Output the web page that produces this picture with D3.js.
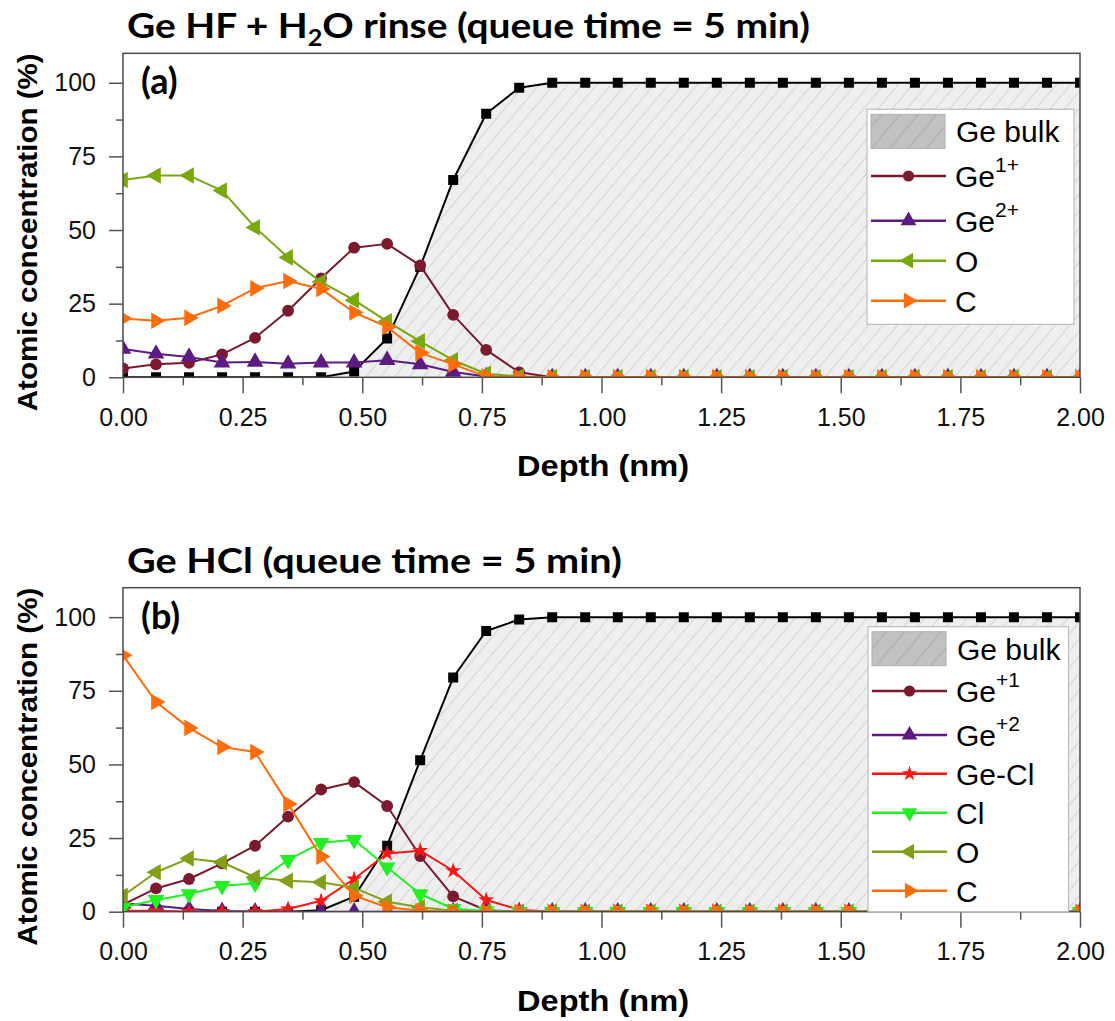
<!DOCTYPE html>
<html><head><meta charset="utf-8">
<script src="https://cdn.jsdelivr.net/npm/d3@7"></script>
<style>body{margin:0;background:#fff} svg{display:block}</style>
</head><body>
<svg id="chart" width="1115" height="1021"></svg>
<script>
// ---------------- data ----------------
const depth = [0.000,0.069,0.138,0.207,0.276,0.345,0.414,0.483,0.552,0.621,0.690,0.759,0.828,0.897,0.966,1.034,1.103,1.172,1.241,1.310,1.379,1.448,1.517,1.586,1.655,1.724,1.793,1.862,1.931,2.000];
const xTicks = [0,0.25,0.5,0.75,1,1.25,1.5,1.75,2];
const xMinor = [0.125,0.375,0.625,0.875,1.125,1.375,1.625,1.875];
const yTicks = [0,25,50,75,100];
const yMinor = [12.5,37.5,62.5,87.5];

// panel (a) Ge HF + H2O rinse
const a_GeBulk = [0,0,0,0,0,0,0,2,13.2,37.5,67,89.5,98.3,100,100,100,100,100,100,100,100,100,100,100,100,100,100,100,100,100];
const a_Ge1 = [3,4.4,4.9,7.8,13.4,22.6,33.6,44,45.3,38,21.2,9.3,1.7,0,0,0,0,0,0,0,0,0,0,0,0,0,0,0,0,0];
const a_Ge2 = [9.6,8,6.9,5,5.2,4.6,5,5,5.8,4.4,1.8,0.3,0,0,0,0,0,0,0,0,0,0,0,0,0,0,0,0,0,0];
const a_O   = [67,68.5,68.5,63.4,50.9,40.7,32.4,26.2,19,12.2,5.8,1.2,0.3,0,0,0,0,0,0,0,0,0,0,0,0,0,0,0,0,0];
const a_C   = [20,19.2,20.2,24.3,30.2,32.7,30,22,17.1,8.3,4.4,0.3,0,0,0,0,0,0,0,0,0,0,0,0,0,0,0,0,0,0];

// panel (b) Ge HCl
const b_GeBulk = [0,0,0,0,0,0,0.5,5.1,22.4,51.4,79.5,95.3,99.2,100,100,100,100,100,100,100,100,100,100,100,100,100,100,100,100,100];
const b_Ge1  = [2.4,7.9,11.1,16.4,22.4,32.3,41.5,44,35.9,18.9,5.2,0.5,0,0,0,0,0,0,0,0,0,0,0,0,0,0,0,0,0,0];
const b_Ge2  = [2.8,2,0.9,0.2,0,0,0,0,0,0,0,0,0,0,0,0,0,0,0,0,0,0,0,0,0,0,0,0,0,0];
const b_GeCl = [0.3,0.3,0,0,0,0.9,3.7,11.1,19.8,20.7,13.9,4,0.7,0,0,0,0,0,0,0,0,0,0,0,0,0,0,0,0,0];
const b_Cl   = [1.5,4,6,8.8,9.6,17.6,23.4,24.4,15.1,6,1,0.2,0,0,0,0,0,0,0,0,0,0,0,0,0,0,0,0,0,0];
const b_O    = [5.4,13.4,18.1,16.8,11.7,10.5,10,8.1,3.4,1.5,0.3,0,0,0,0,0,0,0,0,0,0,0,0,0,0,0,0,0,0,0];
const b_C    = [87.1,71.2,62.4,55.9,54.2,36.6,18.7,5.4,1.5,0.3,0,0,0,0,0,0,0,0,0,0,0,0,0,0,0,0,0,0,0,0];

// ---------------- styles ----------------
const C_GE1 = '#7b1a2e', C_GE2 = '#5c1a82', C_C = '#ff6c0a', C_OA = '#78a80c', C_OB = '#82a016', C_CL = '#22f022', C_GECL = '#ff1414';

const panels = [
  { top: 53.3, title: [['Ge HF + H',0],['2',1],['O rinse (queue time = 5 min)',-1]], titleW: 683, tag: '(a)',
    bulk: a_GeBulk,
    series: [
      {v:a_Ge1, color:C_GE1, sym:'circle', label:'Ge', sup:'1+', ly:176},
      {v:a_Ge2, color:C_GE2, sym:'up', label:'Ge', sup:'2+', ly:220.7},
      {v:a_O, color:C_OA, sym:'left', label:'O', ly:260.7},
      {v:a_C, color:C_C, sym:'right', label:'C', ly:300.7}
    ],
    legend: {x:867, y:109.3, w:207, h:215, bulkY:114.3}
  },
  { top: 587.7, title: [['Ge HCl (queue time = 5 min)',0]], titleW: 495, tag: '(b)',
    bulk: b_GeBulk,
    series: [
      {v:b_Ge1, color:C_GE1, sym:'circle', label:'Ge', sup:'+1', ly:691},
      {v:b_Ge2, color:C_GE2, sym:'up', label:'Ge', sup:'+2', ly:735},
      {v:b_GeCl, color:C_GECL, sym:'star', label:'Ge-Cl', ly:773.7},
      {v:b_Cl, color:C_CL, sym:'down', label:'Cl', ly:812.7},
      {v:b_O, color:C_OB, sym:'left', label:'O', ly:851.7},
      {v:b_C, color:C_C, sym:'right', label:'C', ly:890.7}
    ],
    legend: {x:868, y:626.7, w:200.5, h:285, bulkY:631.7}
  }
];

const svg = d3.select('#chart');
const defs = svg.append('defs');
function hatch(id, bg, line, spacing){
  const p = defs.append('pattern').attr('id',id).attr('patternUnits','userSpaceOnUse')
    .attr('width',spacing).attr('height',spacing).attr('patternTransform','rotate(40)');
  p.append('rect').attr('width',spacing).attr('height',spacing).attr('fill',bg);
  p.append('line').attr('x1',spacing/2).attr('x2',spacing/2).attr('y1',0).attr('y2',spacing)
    .attr('stroke',line).attr('stroke-width',1.1);
}
hatch('hatchMain','#efefef','#d6d6d6',11);
hatch('hatchLeg','#c2c2c2','#a9a9a9',14);

function symbolPath(type, scale){
  const s = scale || 1;
  const map = {circle:[d3.symbolCircle,110,0], square:[d3.symbolSquare,100,0], up:[d3.symbolTriangle,120,0],
    down:[d3.symbolTriangle,120,180], left:[d3.symbolTriangle,120,-90], right:[d3.symbolTriangle,120,90], star:[d3.symbolStar,80,0]};
  const m = map[type];
  return {d: d3.symbol().type(m[0]).size(m[1]*s)(), rot: m[2]};
}

const x = d3.scaleLinear().domain([0,2]).range([123,1080]);
const FONT = "'Liberation Sans', Arial, sans-serif";
const TFONT = "Lato, 'Open Sans', sans-serif";

panels.forEach((P, pi) => {
  const top = P.top, bottom = top + 324;
  const y = d3.scaleLinear().domain([0,110]).range([bottom, top]);
  const g = svg.append('g');
  const clipId = 'clip'+pi;
  defs.append('clipPath').attr('id',clipId).append('rect')
    .attr('x',123).attr('y',top).attr('width',957).attr('height',324);
  const plot = g.append('g').attr('clip-path',`url(#${clipId})`);

  // bulk area
  plot.append('path').datum(P.bulk)
    .attr('d', d3.area().x((d,i)=>x(depth[i])).y0(y(0)).y1(d=>y(d)))
    .attr('fill','url(#hatchMain)');
  const allSeries = [{v:P.bulk, color:'#000', sym:'square'}].concat(P.series);
  allSeries.forEach(s => {
    plot.append('path').datum(s.v)
      .attr('d', d3.line().x((d,i)=>x(depth[i])).y(d=>y(d)))
      .attr('fill','none').attr('stroke',s.color).attr('stroke-width',2).attr('stroke-linejoin','round');
    const sp = symbolPath(s.sym);
    plot.append('g').selectAll('path').data(s.v).join('path')
      .attr('d', sp.d)
      .attr('transform',(d,i)=>`translate(${x(depth[i])},${y(d)}) rotate(${sp.rot})`)
      .attr('fill', s.color);
  });

  // frame
  g.append('rect').attr('x',123).attr('y',top).attr('width',957).attr('height',324)
    .attr('fill','none').attr('stroke','#4a4a4a').attr('stroke-width',1.5);

  // axes
  const styleAxis = sel => {
    sel.select('.domain').remove();
    sel.selectAll('line').attr('stroke','#555').attr('stroke-width',1.5);
    sel.attr('font-size',25).attr('font-family',FONT);
    sel.selectAll('text').attr('fill','#111');
  };
  g.append('g').attr('transform',`translate(0,${bottom})`)
    .call(d3.axisBottom(x).tickValues(xTicks).tickSize(16).tickPadding(15).tickFormat(d3.format('.2f'))).call(styleAxis);
  g.append('g').attr('transform',`translate(0,${bottom})`)
    .call(d3.axisBottom(x).tickValues(xMinor).tickSize(8).tickFormat('')).call(styleAxis);
  g.append('g').attr('transform','translate(123,0)')
    .call(d3.axisLeft(y).tickValues(yTicks).tickSize(14).tickPadding(13)).call(styleAxis);
  g.append('g').attr('transform','translate(123,0)')
    .call(d3.axisLeft(y).tickValues(yMinor).tickSize(7).tickFormat('')).call(styleAxis);

  // axis titles
  g.append('text').attr('x',603).attr('y',bottom+99).attr('text-anchor','middle')
    .attr('font-family',FONT).attr('font-weight','bold').attr('font-size',29)
    .attr('textLength',172).attr('lengthAdjust','spacingAndGlyphs').text('Depth (nm)');
  g.append('text').attr('transform',`translate(37,${top+179}) rotate(-90)`).attr('text-anchor','middle')
    .attr('font-family',FONT).attr('font-weight','bold').attr('font-size',27)
    .attr('textLength',358).attr('lengthAdjust','spacingAndGlyphs').text('Atomic concentration (%)');

  // title
  const tg = g.append('g');
  const tt = tg.append('text').attr('x',0).attr('y',0).attr('font-family',TFONT).attr('font-weight','bold').attr('font-size',34).attr('fill','#000');
  P.title.forEach(([t,sub]) => {
    const ts = tt.append('tspan').text(t);
    if (sub === 1) ts.attr('font-size',22).attr('dy',8);
    if (sub === -1) ts.attr('dy',-8);
  });
  const tw = tt.node().getComputedTextLength();
  tg.attr('transform',`translate(127,${top-15}) scale(${P.titleW/tw},1)`);

  // panel tag
  g.append('text').attr('x',141).attr('y',top+41).attr('font-family',TFONT).attr('font-weight','bold')
    .attr('font-size',36).text(P.tag);

  // legend
  const L = P.legend;
  const lg = g.append('g');
  lg.append('rect').attr('x',L.x).attr('y',L.y).attr('width',L.w).attr('height',L.h)
    .attr('fill','#fff').attr('stroke','#bdbdbd').attr('stroke-width',1.2);
  lg.append('rect').attr('x',L.x+4).attr('y',L.bulkY).attr('width',74).attr('height',34)
    .attr('fill','url(#hatchLeg)').attr('stroke','#b0b0b0').attr('stroke-width',1);
  lg.append('text').attr('x',L.x+89).attr('y',L.bulkY+28).attr('font-family',FONT).attr('font-size',30).text('Ge bulk');
  P.series.forEach(s => {
    lg.append('line').attr('x1',L.x+4).attr('x2',L.x+79).attr('y1',s.ly).attr('y2',s.ly)
      .attr('stroke',s.color).attr('stroke-width',2.5);
    const sp = symbolPath(s.sym, 0.9);
    lg.append('path').attr('d',sp.d).attr('transform',`translate(${L.x+41.5},${s.ly}) rotate(${sp.rot})`).attr('fill',s.color);
    const t = lg.append('text').attr('x',L.x+88).attr('y',s.ly+11).attr('font-family',FONT).attr('font-size',30).attr('fill','#000');
    t.append('tspan').text(s.label);
    if (s.sup) t.append('tspan').attr('font-size',21).attr('dy',-15).text(s.sup);
  });
});
</script>
</body></html>
